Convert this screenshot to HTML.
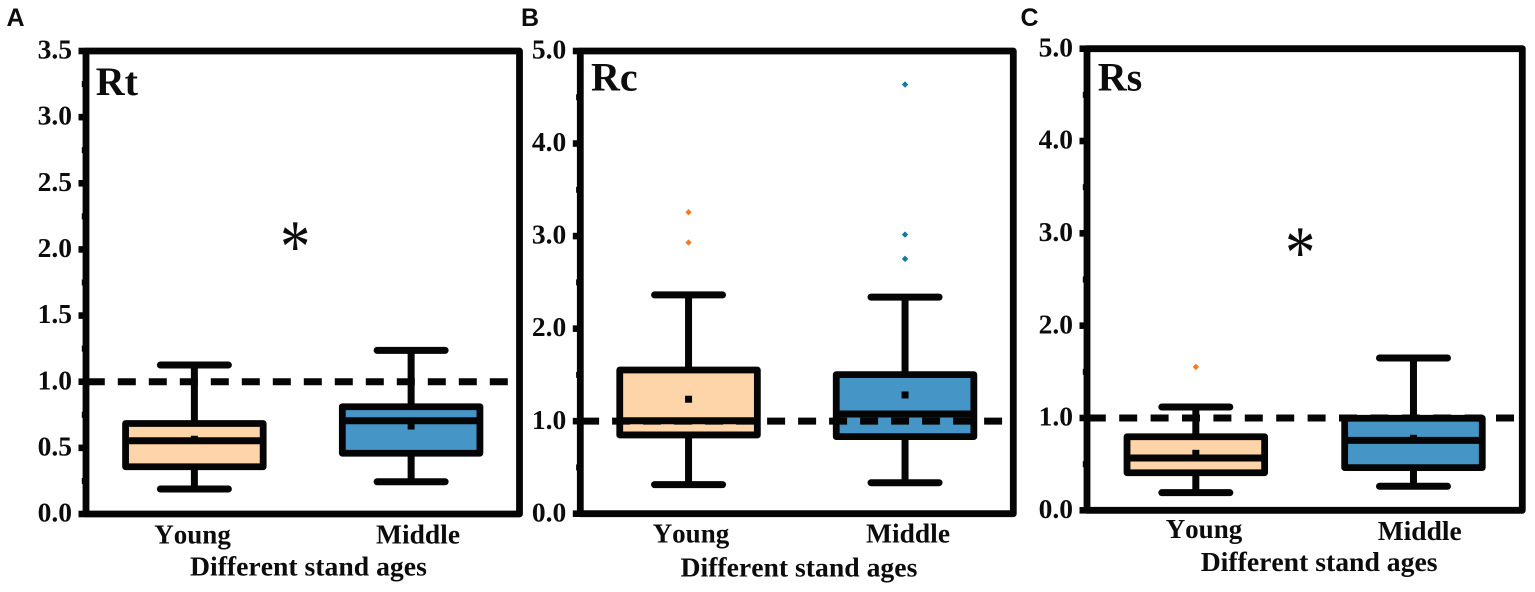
<!DOCTYPE html>
<html lang="en">
<head>
<meta charset="utf-8">
<title>Rt, Rc and Rs by stand age</title>
<style>
  html, body { margin: 0; padding: 0; background: #fff; }
  body { width: 1535px; height: 592px; overflow: hidden; }
  svg { display: block; }
  text { fill: #0c0c0c; font-family: "Liberation Serif", serif; font-weight: 700; font-kerning: none; }
  .letter { font-family: "Liberation Sans", sans-serif; font-size: 25px; }
  .tick { font-size: 27.5px; text-anchor: end; }
  .young { font-size: 27px; }
  .middle { font-size: 27.5px; }
  .axis-title { font-size: 27.7px; }
  .ttl { font-size: 40px; }
  .star { font-size: 67px; font-weight: 400; text-anchor: middle; }
</style>
</head>
<body>
<svg id="chart" width="1535" height="592" viewBox="0 0 1535 592" xmlns="http://www.w3.org/2000/svg">
  <g id="panel-a"></g>
  <g id="panel-b"></g>
  <g id="panel-c"></g>

  <text class="letter" x="6.5" y="26">A</text>
  <text class="letter" x="521" y="26">B</text>
  <text class="letter" x="1020.5" y="26">C</text>

  <text class="ttl" x="95.7" y="95">Rt</text>
  <text class="ttl" x="591" y="90.7">Rc</text>
  <text class="ttl" x="1097.7" y="90.7">Rs</text>

  <text class="star" transform="translate(295.2 271.5) scale(0.9 1.12)" x="0" y="0">*</text>
  <text class="star" transform="translate(1300.2 277.3) scale(0.9 1.12)" x="0" y="0">*</text>

  <text class="young" x="154.3" y="543.3">Young</text>
  <text class="middle" x="376" y="543.3">Middle</text>
  <text class="axis-title" x="190" y="575.7">Different stand ages</text>

  <text class="young" x="652.7" y="542.7">Young</text>
  <text class="middle" x="866" y="542.7">Middle</text>
  <text class="axis-title" x="680.5" y="576.7">Different stand ages</text>

  <text class="young" x="1165.7" y="538">Young</text>
  <text class="middle" x="1377.7" y="540">Middle</text>
  <text class="axis-title" x="1200.7" y="571">Different stand ages</text>
</svg>

<script>
// ---- data (Young, Middle) ----
const categories = ['young', 'middle'];

const rtTicks = [0, 0.5, 1, 1.5, 2, 2.5, 3, 3.5];
const rtHigh = [1.126, 1.237];
const rtQ3 = [0.684, 0.811];
const rtMedian = [0.554, 0.705];
const rtMean = [0.565, 0.665];
const rtQ1 = [0.357, 0.459];
const rtLow = [0.189, 0.244];
const rtOutliersYoung = [];
const rtOutliersMiddle = [];

const rcTicks = [0, 1, 2, 3, 4, 5];
const rcHigh = [2.364, 2.34];
const rcQ3 = [1.553, 1.503];
const rcMedian = [1.005, 1.078];
const rcMean = [1.237, 1.283];
const rcQ1 = [0.851, 0.833];
const rcLow = [0.314, 0.335];
const rcOutliersYoung = [3.258, 2.93];
const rcOutliersMiddle = [4.638, 3.016, 2.754];

const rsTicks = [0, 1, 2, 3, 4, 5];
const rsHigh = [1.119, 1.65];
const rsQ3 = [0.797, 0.997];
const rsMedian = [0.567, 0.758];
const rsMean = [0.617, 0.78];
const rsQ1 = [0.407, 0.462];
const rsLow = [0.191, 0.26];
const rsOutliersYoung = [1.553];
const rsOutliersMiddle = [];

const referenceValue = 1;

// ---- drawing ----
const SVG_NS = 'http://www.w3.org/2000/svg';
const INK = '#050505';
const FILLS = ['#fdd5a8', '#4596c6'];
const OUTLIER_COLORS = ['#f47b20', '#14789f'];

function make(parent, tag, attrs) {
  const el = document.createElementNS(SVG_NS, tag);
  Object.keys(attrs).forEach(function (k) { el.setAttribute(k, attrs[k]); });
  parent.appendChild(el);
  return el;
}

function drawPanel(cfg) {
  const g = document.getElementById(cfg.id);
  const yMax = cfg.ticks[cfg.ticks.length - 1];
  const yScale = function (v) { return cfg.bottom - (v / yMax) * (cfg.bottom - cfg.top); };
  const xScale = function (i) { return cfg.left + ((i + 0.5) / categories.length) * (cfg.right - cfg.left); };

  // major ticks and labels
  cfg.ticks.forEach(function (t) {
    const y = yScale(t);
    const tick = make(g, 'line', { x1: cfg.left - 7.5, x2: cfg.left, y1: y, y2: y, stroke: INK, 'stroke-width': 6.6 });
    
    
    const label = make(g, 'text', { class: 'tick', x: cfg.left - 14, y: y + 7.6 });
    label.textContent = t.toFixed(1);
    
    
  });

  // minor ticks halfway between majors
  for (let i = 0; i < cfg.ticks.length - 1; i++) {
    const y = yScale((cfg.ticks[i] + cfg.ticks[i + 1]) / 2);
    const minor = make(g, 'line', { x1: cfg.left - 4.2, x2: cfg.left, y1: y, y2: y, stroke: INK, 'stroke-width': 6 });
    
    
  }

  // frame
  const frame = make(g, 'rect', {
    x: cfg.left, y: cfg.top, width: cfg.right - cfg.left, height: cfg.bottom - cfg.top,
    fill: 'none', stroke: INK, 'stroke-width': 6.8, 'stroke-linejoin': 'round'
  });
  
  

  // boxes
  categories.forEach(function (cat, i) {
    const x = xScale(i);
    const box = make(g, 'g', {});
    
    

    const upper = make(box, 'line', { x1: x, x2: x, y1: yScale(cfg.high[i]), y2: yScale(cfg.q3[i]), stroke: INK, 'stroke-width': 7 });
    
    

    const lower = make(box, 'line', { x1: x, x2: x, y1: yScale(cfg.q1[i]), y2: yScale(cfg.low[i]), stroke: INK, 'stroke-width': 7 });
    
    

    const capHigh = make(box, 'line', { x1: x - 34, x2: x + 34, y1: yScale(cfg.high[i]), y2: yScale(cfg.high[i]), stroke: INK, 'stroke-width': 7, 'stroke-linecap': 'round' });
    
    

    const capLow = make(box, 'line', { x1: x - 34, x2: x + 34, y1: yScale(cfg.low[i]), y2: yScale(cfg.low[i]), stroke: INK, 'stroke-width': 7, 'stroke-linecap': 'round' });
    
    

    const rect = make(box, 'rect', {
      x: x - 68.8, width: 137.6, y: yScale(cfg.q3[i]), height: yScale(cfg.q1[i]) - yScale(cfg.q3[i]),
      fill: FILLS[i], stroke: INK, 'stroke-width': 6.8, 'stroke-linejoin': 'round'
    });
    
    

    const med = make(box, 'line', { x1: x - 68.8, x2: x + 68.8, y1: yScale(cfg.median[i]), y2: yScale(cfg.median[i]), stroke: INK, 'stroke-width': 7 });
    
    

    const mean = make(box, 'rect', { x: x - 3.5, y: yScale(cfg.mean[i]) - 3.5, width: 7, height: 7, fill: INK });
    
    

    cfg.outliers[i].forEach(function (v) {
      const cy = yScale(v);
      const pt = make(box, 'polygon', {
        points: [x + ',' + (cy - 3.2), (x + 3.2) + ',' + cy, x + ',' + (cy + 3.2), (x - 3.2) + ',' + cy].join(' '),
        fill: OUTLIER_COLORS[i]
      });
      
      
    });
  });

  // reference line
  const refY = yScale(referenceValue);
  const ref = make(g, 'line', {
    x1: cfg.left + 0.8, x2: cfg.right - 3, y1: refY, y2: refY, stroke: INK,
    'stroke-width': 7, 'stroke-dasharray': cfg.dash
  });
  
  
}

drawPanel({
  id: 'panel-a', key: 'rt', left: 86, right: 519.5, top: 51, bottom: 514,
  ticks: rtTicks, high: rtHigh, q3: rtQ3, median: rtMedian, mean: rtMean, q1: rtQ1, low: rtLow,
  outliers: [rtOutliersYoung, rtOutliersMiddle], dash: '18 13'
});
drawPanel({
  id: 'panel-b', key: 'rc', left: 580.3, right: 1013.3, top: 51, bottom: 513.7,
  ticks: rcTicks, high: rcHigh, q3: rcQ3, median: rcMedian, mean: rcMean, q1: rcQ1, low: rcLow,
  outliers: [rcOutliersYoung, rcOutliersMiddle], dash: '18 13'
});
drawPanel({
  id: 'panel-c', key: 'rs', left: 1087, right: 1522.3, top: 48.7, bottom: 510.3,
  ticks: rsTicks, high: rsHigh, q3: rsQ3, median: rsMedian, mean: rsMean, q1: rsQ1, low: rsLow,
  outliers: [rsOutliersYoung, rsOutliersMiddle], dash: '18 13.4'
});
</script>
</body>
</html>
